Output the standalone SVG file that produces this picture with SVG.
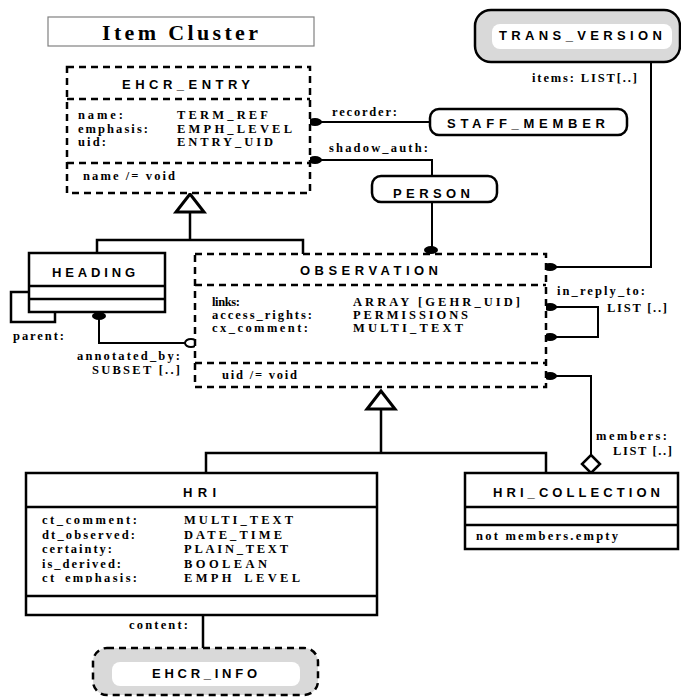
<svg xmlns="http://www.w3.org/2000/svg" width="681" height="697" viewBox="0 0 681 697">
<style>
.bg{fill:#fff}
.box{fill:#fff;stroke:#000;stroke-width:2.5}
.dash{fill:#fff;stroke:#000;stroke-width:2.5;stroke-dasharray:7 5}
.dl{fill:none;stroke:#000;stroke-width:2.5;stroke-dasharray:7 5}
.sl{fill:none;stroke:#000;stroke-width:2.5}
.ln{fill:none;stroke:#000;stroke-width:2}
.dot{fill:#000}
.tri{fill:#fff;stroke:#000;stroke-width:3;stroke-linejoin:miter}
.t{font-family:"Liberation Sans",Arial,sans-serif;font-weight:bold;font-size:13px;fill:#000}
.a{font-family:"Liberation Serif","Times New Roman",serif;font-weight:bold;font-size:12.5px;fill:#000}
.h{font-family:"Liberation Serif","Times New Roman",serif;font-weight:bold;font-size:22px;fill:#000}
</style>
<defs>
<clipPath id="hriclip"><rect x="26" y="507" width="351" height="75.5"/></clipPath>
</defs>
<rect class="bg" x="0" y="0" width="681" height="697"/>

<g id="title">
<rect x="48" y="17" width="266" height="29" fill="#fff" stroke="#808080" stroke-width="1.2"/>
<text class="h" x="102" y="40" textLength="156" lengthAdjust="spacing">Item Cluster</text>
</g>

<g id="connectors">
<!-- recorder -->
<line class="ln" x1="316" y1="122" x2="430" y2="122"/>
<ellipse class="dot" cx="315" cy="122" rx="7" ry="4"/>
<text class="a" x="332" y="116" textLength="65" lengthAdjust="spacing">recorder:</text>
<!-- shadow_auth -->
<polyline class="ln" points="316,160 432,160 432,176"/>
<ellipse class="dot" cx="315" cy="160" rx="7" ry="4"/>
<text class="a" x="329" y="152" textLength="99" lengthAdjust="spacing">shadow_auth:</text>
<!-- person to observation -->
<line class="ln" x1="432" y1="202" x2="432" y2="250"/>
<ellipse class="dot" cx="431" cy="250" rx="7" ry="4"/>
<!-- trans_version items -->
<polyline class="ln" points="651,62 651,267 550,267"/>
<ellipse class="dot" cx="550" cy="267" rx="7" ry="4"/>
<text class="a" x="532" y="82" textLength="105" lengthAdjust="spacing">items: LIST[..]</text>
<!-- in_reply_to -->
<polyline class="ln" points="550,307 598,307 598,337 550,337"/>
<ellipse class="dot" cx="550" cy="307" rx="7" ry="4"/>
<ellipse class="dot" cx="550" cy="337" rx="7" ry="4"/>
<text class="a" x="557" y="295" textLength="88" lengthAdjust="spacing">in_reply_to:</text>
<text class="a" x="607" y="312" textLength="60" lengthAdjust="spacing">LIST [..]</text>
<!-- members -->
<polyline class="ln" points="550,376 591,376 591,455"/>
<ellipse class="dot" cx="550" cy="376" rx="7" ry="4"/>
<polygon points="591,455 600,464 591,473 582,464" fill="#fff" stroke="#000" stroke-width="2.5"/>
<text class="a" x="596" y="440" textLength="71" lengthAdjust="spacing">members:</text>
<text class="a" x="613" y="455" textLength="59" lengthAdjust="spacing">LIST [..]</text>
<!-- generalization EHCR_ENTRY -->
<polyline class="sl" points="97,253 97,240 303,240 303,254"/>
<line class="sl" x1="190" y1="212" x2="190" y2="240"/>
<polygon class="tri" points="190,194 176,212 204,212"/>
<!-- generalization OBSERVATION -->
<polyline class="sl" points="206,473 206,453 546,453 546,473"/>
<line class="sl" x1="381" y1="409" x2="381" y2="453"/>
<polygon class="tri" points="381,391 367,409 395,409"/>
<!-- parent self loop -->
<polyline class="sl" points="29,292 11,292 11,322 55,322 55,312"/>
<text class="a" x="13" y="340" textLength="51" lengthAdjust="spacing">parent:</text>
<!-- annotated_by -->
<polyline class="ln" points="99,316 99,343 185,343"/>
<ellipse class="dot" cx="99" cy="316" rx="7" ry="4"/>
<ellipse cx="191" cy="343" rx="6" ry="4" fill="#fff" stroke="#000" stroke-width="2"/>
<text class="a" x="77" y="360" textLength="103" lengthAdjust="spacing">annotated_by:</text>
<text class="a" x="92" y="374" textLength="88" lengthAdjust="spacing">SUBSET [..]</text>
<!-- content -->
<line class="sl" x1="203" y1="615" x2="203" y2="648"/>
<text class="a" x="129" y="629" textLength="59" lengthAdjust="spacing">content:</text>
</g>

<g id="ehcr_entry">
<rect class="dash" x="67" y="67" width="243" height="126"/>
<line class="dl" x1="67" y1="99" x2="310" y2="99"/>
<line class="dl" x1="67" y1="163" x2="310" y2="163"/>
<text class="t" x="122" y="89" textLength="128" lengthAdjust="spacing">EHCR_ENTRY</text>
<text class="a" x="78" y="119" textLength="45" lengthAdjust="spacing">name:</text>
<text class="a" x="78" y="132.5" textLength="70" lengthAdjust="spacing">emphasis:</text>
<text class="a" x="78" y="146" textLength="28" lengthAdjust="spacing">uid:</text>
<text class="a" x="177" y="119" textLength="91" lengthAdjust="spacing">TERM_REF</text>
<text class="a" x="177" y="132.5" textLength="115" lengthAdjust="spacing">EMPH_LEVEL</text>
<text class="a" x="177" y="146" textLength="96" lengthAdjust="spacing">ENTRY_UID</text>
<text class="a" x="83" y="180" textLength="92" lengthAdjust="spacing">name /= void</text>
</g>

<g id="staff_member">
<rect class="box" x="430" y="109" width="197" height="26" rx="9"/>
<text class="t" x="447" y="128" textLength="158" lengthAdjust="spacing">STAFF_MEMBER</text>
</g>

<g id="person">
<rect class="box" x="372" y="176" width="125" height="26" rx="9"/>
<text class="t" x="393" y="198" textLength="77" lengthAdjust="spacing">PERSON</text>
</g>

<g id="trans_version">
<rect x="475" y="10" width="205" height="52" rx="16" fill="#d9d9d9" stroke="#000" stroke-width="2.5"/>
<rect x="492" y="24" width="180" height="25" rx="8" fill="#fff"/>
<text class="t" x="499" y="39.5" textLength="163" lengthAdjust="spacing">TRANS_VERSION</text>
</g>

<g id="heading">
<rect class="box" x="29" y="253" width="136" height="59"/>
<line class="sl" x1="29" y1="286" x2="165" y2="286"/>
<line class="sl" x1="29" y1="299" x2="165" y2="299"/>
<text class="t" x="52" y="277" textLength="83" lengthAdjust="spacing">HEADING</text>
</g>

<g id="observation">
<rect class="dash" x="195" y="254" width="351" height="133"/>
<line class="dl" x1="195" y1="285" x2="546" y2="285"/>
<line class="dl" x1="195" y1="363" x2="546" y2="363"/>
<text class="t" x="300" y="275" textLength="138" lengthAdjust="spacing">OBSERVATION</text>
<text class="a" x="212" y="306" textLength="28" lengthAdjust="spacing">links:</text>
<text class="a" x="212" y="319" textLength="100" lengthAdjust="spacing">access_rights:</text>
<text class="a" x="212" y="332" textLength="96" lengthAdjust="spacing">cx_comment:</text>
<text class="a" x="353" y="306" textLength="167" lengthAdjust="spacing">ARRAY [GEHR_UID]</text>
<text class="a" x="353" y="319" textLength="115" lengthAdjust="spacing">PERMISSIONS</text>
<text class="a" x="353" y="332" textLength="110" lengthAdjust="spacing">MULTI_TEXT</text>
<text class="a" x="222" y="379" textLength="75" lengthAdjust="spacing">uid /= void</text>
</g>

<g id="hri">
<rect class="box" x="26" y="473" width="351" height="142"/>
<line class="sl" x1="26" y1="507" x2="377" y2="507"/>
<line class="sl" x1="26" y1="596" x2="377" y2="596"/>
<text class="t" x="183" y="497" textLength="33" lengthAdjust="spacing">HRI</text>
<g clip-path="url(#hriclip)">
<text class="a" x="42" y="524" textLength="95" lengthAdjust="spacing">ct_comment:</text>
<text class="a" x="42" y="538.5" textLength="93" lengthAdjust="spacing">dt_observed:</text>
<text class="a" x="42" y="553" textLength="70" lengthAdjust="spacing">certainty:</text>
<text class="a" x="42" y="567.5" textLength="79" lengthAdjust="spacing">is_derived:</text>
<text class="a" x="42" y="582" textLength="95" lengthAdjust="spacing">ct_emphasis:</text>
<text class="a" x="184" y="524" textLength="109" lengthAdjust="spacing">MULTI_TEXT</text>
<text class="a" x="184" y="538.5" textLength="98" lengthAdjust="spacing">DATE_TIME</text>
<text class="a" x="184" y="553" textLength="104" lengthAdjust="spacing">PLAIN_TEXT</text>
<text class="a" x="184" y="567.5" textLength="83" lengthAdjust="spacing">BOOLEAN</text>
<text class="a" x="184" y="582" textLength="116" lengthAdjust="spacing">EMPH_LEVEL</text>
</g>
</g>

<g id="hri_collection">
<rect class="box" x="465" y="473" width="213" height="76"/>
<line class="sl" x1="465" y1="507" x2="678" y2="507"/>
<line class="sl" x1="465" y1="525" x2="678" y2="525"/>
<text class="t" x="493" y="497" textLength="167" lengthAdjust="spacing">HRI_COLLECTION</text>
<text class="a" x="476" y="540" textLength="142" lengthAdjust="spacing">not members.empty</text>
</g>

<g id="ehcr_info">
<rect x="93" y="648" width="225" height="47" rx="14" fill="#d9d9d9" stroke="#000" stroke-width="2.5" stroke-dasharray="7 5"/>
<rect x="112" y="662" width="188" height="24" rx="8" fill="#fff"/>
<text class="t" x="152" y="677.5" textLength="105" lengthAdjust="spacing">EHCR_INFO</text>
</g>
</svg>
